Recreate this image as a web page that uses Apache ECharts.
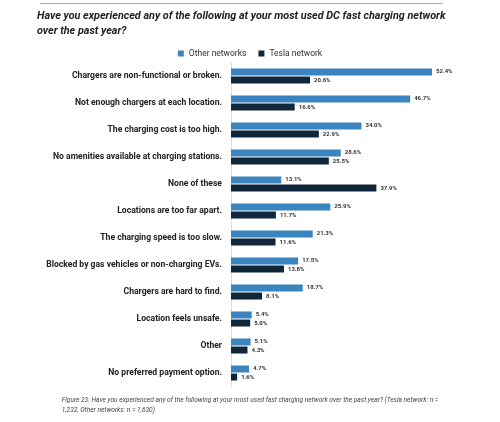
<!DOCTYPE html>
<html><head><meta charset="utf-8">
<script src="https://cdn.jsdelivr.net/npm/echarts@6/dist/echarts.min.js"></script>
<style>html,body{margin:0;padding:0;background:#fff}#c{width:500px;height:422px}</style>
</head><body><div id="c"></div>
<script>
const categories = ["Chargers are non-functional or broken.","Not enough chargers at each location.","The charging cost is too high.","No amenities available at charging stations.","None of these","Locations are too far apart.","The charging speed is too slow.","Blocked by gas vehicles or non-charging EVs.","Chargers are hard to find.","Location feels unsafe.","Other","No preferred payment option."];
const otherNetworks = [52.4,46.7,34.0,28.6,13.1,25.9,21.3,17.5,18.7,5.4,5.1,4.7];
const teslaNetwork = [20.6,16.6,22.9,25.5,37.9,11.7,11.6,13.8,8.1,5.0,4.3,1.6];
const chart = echarts.init(document.getElementById('c'));
const lbl = {show:true,position:'right',distance:4,fontSize:6,fontWeight:'bold',color:'#333',fontFamily:'Roboto',formatter:p=>p.value.toFixed(1)+'%'};
chart.setOption({
  animation:false,
  graphic:[
    {type:'line',shape:{x1:40,y1:3.5,x2:443,y2:3.5},style:{stroke:'#aaa',lineWidth:1}},
    {type:'text',left:37,top:9,style:{text:'Have you experienced any of the following at your most used DC fast charging network\nover the past year?',font:'italic bold 10.8px Roboto',fill:'#222',lineHeight:15}},
    {type:'text',left:'center',top:396,style:{text:'Figure 23: Have you experienced any of the following at your most used fast charging network over the past year? (Tesla network: n =\n1,232, Other networks: n = 1,630)',font:'italic 6.6px Roboto',fill:'#444',align:'center',lineHeight:9.5}}
  ],
  legend:{top:44,left:'center',icon:'rect',itemWidth:6,itemHeight:6,itemGap:12,textStyle:{fontSize:8.5,color:'#333',fontFamily:'Roboto'},data:['Other networks','Tesla network']},
  grid:{left:231,right:58,top:62.5,bottom:35.5},
  xAxis:{type:'value',min:0,max:55,show:false},
  yAxis:{type:'category',inverse:true,data:categories,axisTick:{show:false},axisLine:{lineStyle:{color:'#ddd'}},axisLabel:{fontSize:8.6,fontWeight:'bold',color:'#222',fontFamily:'Roboto',margin:9}},
  series:[
    {name:'Other networks',type:'bar',data:otherNetworks,barWidth:7,barGap:'15%',itemStyle:{color:'#3a84bf'},label:lbl},
    {name:'Tesla network',type:'bar',data:teslaNetwork,barWidth:7,itemStyle:{color:'#10263a'},label:lbl}
  ]
});
</script></body></html>
